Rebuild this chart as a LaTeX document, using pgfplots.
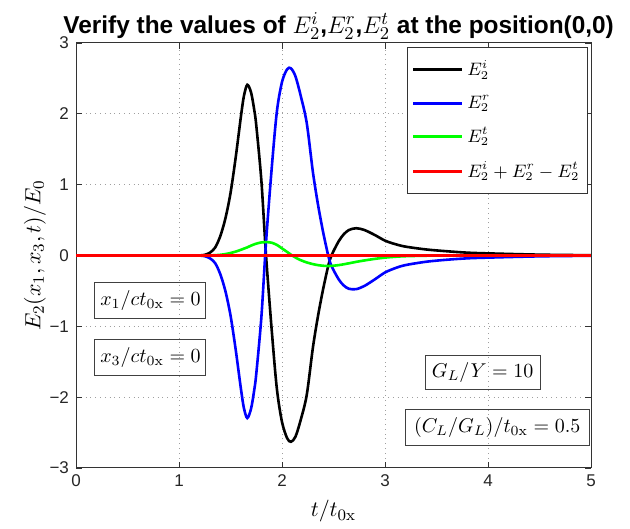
\documentclass[border=0pt]{standalone}
\usepackage[no-math]{fontspec}
\setmainfont{Liberation Sans}
\usepackage{pgfplots}
\usepackage{pgfplotstable}
\pgfplotsset{compat=1.18}

% field components at (x1,x3)=(0,0): incident, reflected, transmitted, balance
\pgfplotstableread{
t      Ei      Er      Et      Sum
0      0       0       0       0
1.0    0       0       0       0
1.2    0.002   -0.002  0       0
1.25   0.01    -0.01   0       0
1.3    0.04    -0.039  0.001   0
1.35   0.11    -0.106  0.004   0
1.4    0.27    -0.26   0.01    0
1.45   0.52    -0.50   0.02    0
1.5    0.88    -0.845  0.035   0
1.55   1.38    -1.325  0.055   0
1.6    1.95    -1.87   0.08    0
1.63   2.25    -2.153  0.097   0
1.663  2.41    -2.295  0.115   0
1.7    2.30    -2.16   0.14    0
1.73   2.06    -1.903  0.157   0
1.75   1.84    -1.673  0.167   0
1.8    1.05    -0.865  0.185   0
1.845  0.0     0.19    0.19    0
1.9    -1.05   1.23    0.18    0
1.95   -1.88   2.03    0.15    0
2.0    -2.35   2.45    0.10    0
2.05   -2.58   2.63    0.05    0
2.087  -2.63   2.642   0.012   0
2.13   -2.56   2.532   -0.028  0
2.18   -2.33   2.265   -0.065  0
2.24   -1.97   1.872   -0.098  0
2.3    -1.30   1.178   -0.122  0
2.35   -0.85   0.714   -0.136  0
2.4    -0.47   0.325   -0.145  0
2.45   -0.14   -0.008  -0.148  0
2.48   0.0     -0.147  -0.147  0
2.55   0.20    -0.336  -0.136  0
2.6    0.30    -0.424  -0.124  0
2.65   0.36    -0.47   -0.11   0
2.72   0.385   -0.475  -0.09   0
2.8    0.36    -0.43   -0.07   0
2.9    0.29    -0.338  -0.048  0
3.0    0.21    -0.24   -0.03   0
3.1    0.16    -0.178  -0.018  0
3.2    0.125   -0.135  -0.01   0
3.4    0.085   -0.088  -0.003  0
3.6    0.06    -0.06   0       0
3.8    0.04    -0.04   0       0
4.0    0.03    -0.03   0       0
4.5    0.012   -0.012  0       0
5.0    0.004   -0.004  0       0
}\fielddata

\begin{document}
\begin{tikzpicture}
\begin{axis}[
  name=ax,
  scale only axis,
  width=257.5pt, height=212.5pt,
  xmin=0, xmax=5, ymin=-3, ymax=3,
  xtick={0,1,2,3,4,5},
  ytick={-3,-2,-1,0,1,2,3},
  yticklabels={−3,−2,−1,0,1,2,3},
  /pgf/number format/assume math mode=true,
  tick label style={font=\fontsize{8.5}{10}\selectfont, text=black!85},
  tick align=inside,
  xtick pos=both, ytick pos=both,
  major tick length=3pt,
  tick style={black!80, line width=0.4pt},
  axis line style={black!80, line width=0.5pt},
  grid=major,
  major grid style={dotted, gray!75, line width=0.5pt},
  xlabel={$t/t_{0\mathrm{x}}$},
  ylabel={$E_2(x_1,x_3,t)/E_0$},
  label style={font=\fontsize{11}{13}\selectfont},
  xlabel style={at={(axis description cs:0.5,-0.102)}, anchor=center},
  ylabel style={at={(axis description cs:-0.0796,0.5)}, anchor=center, rotate=0},
  title={\bfseries Verify the values of $E_2^i$,$E_2^r$,$E_2^t$ at the position(0,0)},
  title style={font=\fontsize{12.2}{14}\selectfont, inner sep=1pt,
    at={(axis description cs:0.51,1.012)}, anchor=center},
  legend style={at={(axis description cs:0.994,0.991)}, anchor=north east,
    draw=black!80, line width=0.5pt, fill=white,
    inner xsep=2pt, inner ysep=4.5pt, row sep=4.2pt,
    font=\fontsize{8.6}{10.5}\selectfont},
  legend cell align=left,
  legend image code/.code={\draw[#1, line width=1.3pt] (0cm,0cm) -- (0.86cm,0cm);},
  every axis plot/.append style={line width=1.3pt},
]
\addplot[black, smooth] table[x=t, y=Ei] {\fielddata};
\addlegendentry{$E_2^i$}
\addplot[blue, smooth] table[x=t, y=Er] {\fielddata};
\addlegendentry{$E_2^r$}
\addplot[green, smooth] table[x=t, y=Et] {\fielddata};
\addlegendentry{$E_2^t$}
\addplot[red] table[x=t, y=Sum] {\fielddata};
\addlegendentry{$E_2^i+E_2^r-E_2^t$}

\node[draw=black!75, line width=0.5pt, minimum width=55.5pt, minimum height=18pt, inner sep=2pt]
  at (axis cs:0.723,-0.629) {$x_1/ct_{0\mathrm{x}}=0$};
\node[draw=black!75, line width=0.5pt, minimum width=55.5pt, minimum height=18pt, inner sep=2pt]
  at (axis cs:0.723,-1.437) {$x_3/ct_{0\mathrm{x}}=0$};
\node[draw=black!75, line width=0.5pt, minimum width=57.5pt, minimum height=17pt, inner sep=2pt]
  at (axis cs:3.947,-1.648) {$G_L/Y=10$};
\node[draw=black!75, line width=0.5pt, minimum width=92pt, minimum height=18pt, inner sep=2pt]
  at (axis cs:4.089,-2.429) {$(C_L/G_L)/t_{0\mathrm{x}}=0.5$};
\end{axis}
\path ([xshift=-38pt,yshift=-29.5pt]ax.south west) rectangle ([xshift=19.5pt,yshift=21.5pt]ax.north east);
\end{tikzpicture}
\end{document}
